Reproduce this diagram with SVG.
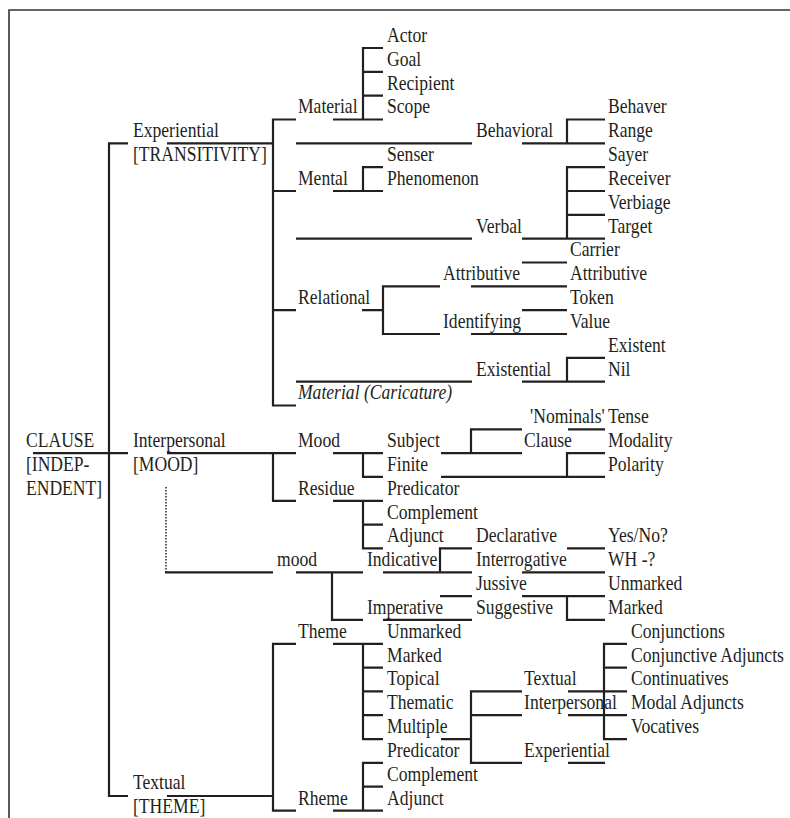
<svg xmlns="http://www.w3.org/2000/svg" width="790" height="818" viewBox="0 0 790 818">
<style>
text{transform:scale(0.88,1)}
.i{font-style:italic}
.c{stroke:#231f20;stroke-width:2.2;fill:none}
.d{stroke:#231f20;stroke-width:1.5;fill:none;stroke-dasharray:1.5 1.5}
.f{stroke:#333;stroke-width:1.6;fill:none}
</style>
<rect width="790" height="818" fill="#fff"/>
<g id="frame"><path class="f" d="M9,818 V10 H790"/></g>
<g id="connectors">
<path class="c" d="M128,143.3 H109 V796 H128 M33,453.1 H128 M167,143.3 H273 M167,453.1 H296 M167,796 H273"/>
<path class="c" d="M296,119.5 H273 V405.5 H296 M273,191 H296 M273,310.1 H296"/>
<path class="c" d="M333,119.5 H383 M383,48 H363 V119.5 M363,71.8 H383 M363,95.7 H383"/>
<path class="c" d="M296,143.3 H472 M522,143.3 H605 M605,119.5 H567 V143.3"/>
<path class="c" d="M333,191 H383 M383,167.2 H363 V191"/>
<path class="c" d="M296,238.6 H472 M522,238.6 H605 M605,167.2 H567 V238.6 M567,191 H605 M567,214.8 H605"/>
<path class="c" d="M362,310.1 H383 M440,286.3 H383 V334 H440"/>
<path class="c" d="M471,286.3 H567 M522,262.5 H567 M471,334 H567 M522,310.1 H567"/>
<path class="c" d="M296,381.6 H472 M522,381.6 H605 M605,357.8 H567 V381.6"/>
<path class="c" d="M273,453.1 V500.8 H296"/>
<path class="c" d="M333,453.1 H383 M363,453.1 V476.9 H383 M333,500.8 H383 M363,500.8 V548.4 H383 M363,524.6 H383"/>
<path class="c" d="M441,453.1 H522 M522,429.3 H471 V453.1 M568,429.3 H605 M605,453.1 H567 V476.9 M441,476.9 H605"/>
<path class="d" d="M166,487 V572.3"/>
<path class="c" d="M165,572.3 H273 M296,572.3 H363 M332,572.3 V619.9 H363"/>
<path class="c" d="M383,572.3 H472 M472,548.4 H440 V572.3 M567,548.4 H605 M522,572.3 H605"/>
<path class="c" d="M383,619.9 H472 M440,596.1 H472 M522,596.1 H605 M567,596.1 V619.9 H605"/>
<path class="c" d="M296,643.8 H273 V810.6 H296 M333,643.8 H383 M363,643.8 V739.1 H383 M363,667.6 H383 M363,691.4 H383 M363,715.2 H383"/>
<path class="c" d="M441,739.1 H471 M522,691.4 H471 V762.9 H522 M471,715.2 H522 M568,691.4 H627 M568,715.2 H627 M568,762.9 H605 M627,643.8 H604 V739.1 H627 M604,667.6 H627"/>
<path class="c" d="M333,810.6 H383 M383,762.9 H363 V810.6 M363,786.7 H383"/>
</g>
<g id="nodes" font-family="Liberation Serif, Times New Roman, serif" font-size="20" fill="#231f20">
<g id="clause"><text x="29.5" y="447.1">CLAUSE</text><text x="29.5" y="470.9">[INDEP-</text><text x="29.5" y="494.8">ENDENT]</text></g>
<g id="experiential"><text x="151.1" y="137.3">Experiential</text><text x="151.1" y="161.2">[TRANSITIVITY]</text></g>
<g id="interpersonal"><text x="151.1" y="447.1">Interpersonal</text><text x="151.1" y="470.9">[MOOD]</text></g>
<g id="textual"><text x="151.1" y="789">Textual</text><text x="151.1" y="813">[THEME]</text></g>
<g id="material"><text x="338.6" y="113.5">Material</text></g>
<g id="material-roles"><text x="439.8" y="42">Actor</text><text x="439.8" y="65.8">Goal</text><text x="439.8" y="89.7">Recipient</text><text x="439.8" y="113.5">Scope</text></g>
<g id="behavioral"><text x="540.9" y="137.3">Behavioral</text></g>
<g id="behavioral-roles"><text x="690.9" y="113.5">Behaver</text><text x="690.9" y="137.3">Range</text></g>
<g id="mental"><text x="338.6" y="185">Mental</text></g>
<g id="mental-roles"><text x="439.8" y="161.2">Senser</text><text x="439.8" y="185">Phenomenon</text></g>
<g id="verbal"><text x="540.9" y="232.6">Verbal</text></g>
<g id="verbal-roles"><text x="690.9" y="161.2">Sayer</text><text x="690.9" y="185">Receiver</text><text x="690.9" y="208.8">Verbiage</text><text x="690.9" y="232.6">Target</text></g>
<g id="relational"><text x="338.6" y="304.1">Relational</text></g>
<g id="attributive"><text x="503.4" y="280.3">Attributive</text></g>
<g id="attributive-roles"><text x="647.7" y="256.5">Carrier</text><text x="647.7" y="280.3">Attributive</text></g>
<g id="identifying"><text x="503.4" y="328">Identifying</text></g>
<g id="identifying-roles"><text x="647.7" y="304.1">Token</text><text x="647.7" y="328">Value</text></g>
<g id="existential"><text x="540.9" y="375.6">Existential</text></g>
<g id="existential-roles"><text x="690.9" y="351.8">Existent</text><text x="690.9" y="375.6">Nil</text></g>
<g id="material-caricature"><text class="i" x="338.6" y="399.5">Material (Caricature)</text></g>
<g id="mood"><text x="338.6" y="447.1">Mood</text></g>
<g id="mood-elements"><text x="439.8" y="447.1">Subject</text><text x="439.8" y="470.9">Finite</text></g>
<g id="subject-types"><text x="602.3" y="423.3">'Nominals'</text><text x="595.5" y="447.1">Clause</text></g>
<g id="finite-types"><text x="690.9" y="423.3">Tense</text><text x="690.9" y="447.1">Modality</text><text x="690.9" y="470.9">Polarity</text></g>
<g id="residue"><text x="338.6" y="494.8">Residue</text></g>
<g id="residue-elements"><text x="439.8" y="494.8">Predicator</text><text x="439.8" y="518.6">Complement</text><text x="439.8" y="542.4">Adjunct</text></g>
<g id="mood-system"><text x="314.8" y="566.3">mood</text></g>
<g id="indicative"><text x="417" y="566.3">Indicative</text></g>
<g id="indicative-types"><text x="540.9" y="542.4">Declarative</text><text x="540.9" y="566.3">Interrogative</text></g>
<g id="interrogative-types"><text x="690.9" y="542.4">Yes/No?</text><text x="690.9" y="566.3">WH -?</text></g>
<g id="imperative"><text x="417" y="613.9">Imperative</text></g>
<g id="imperative-types"><text x="540.9" y="590.1">Jussive</text><text x="540.9" y="613.9">Suggestive</text></g>
<g id="suggestive-types"><text x="690.9" y="590.1">Unmarked</text><text x="690.9" y="613.9">Marked</text></g>
<g id="theme"><text x="338.6" y="637.8">Theme</text></g>
<g id="theme-types"><text x="439.8" y="637.8">Unmarked</text><text x="439.8" y="661.6">Marked</text><text x="439.8" y="685.4">Topical</text><text x="439.8" y="709.2">Thematic</text><text x="439.8" y="733.1">Multiple</text></g>
<g id="multiple-types"><text x="595.5" y="685.4">Textual</text><text x="595.5" y="709.2">Interpersonal</text><text x="595.5" y="756.9">Experiential</text></g>
<g id="interpersonal-theme-types"><text x="717" y="637.8">Conjunctions</text><text x="717" y="661.6">Conjunctive Adjuncts</text><text x="717" y="685.4">Continuatives</text><text x="717" y="709.2">Modal Adjuncts</text><text x="717" y="733.1">Vocatives</text></g>
<g id="rheme"><text x="338.6" y="804.6">Rheme</text></g>
<g id="rheme-elements"><text x="439.8" y="756.9">Predicator</text><text x="439.8" y="780.7">Complement</text><text x="439.8" y="804.6">Adjunct</text></g>
</g>
</svg>
